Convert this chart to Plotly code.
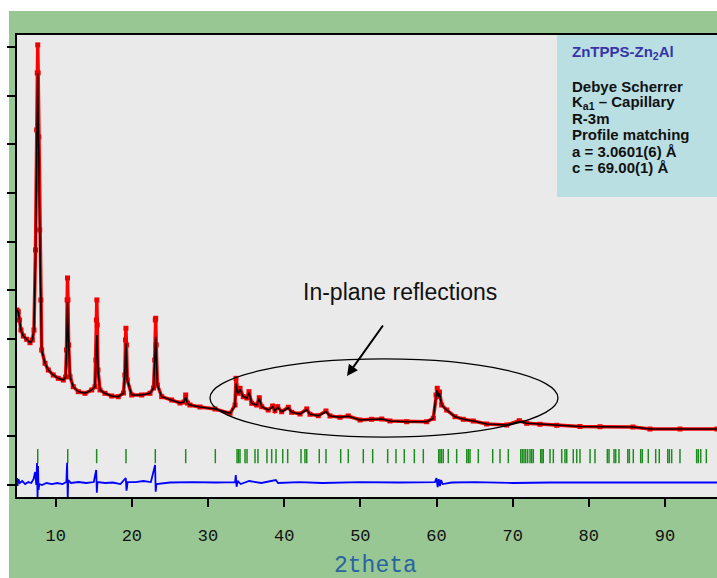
import plotly.graph_objects as go

# ---------------- data ----------------
two_theta = [4.92, 5.09, 5.25, 5.44, 5.75, 6.19, 6.63, 6.93, 7.15, 7.35, 7.50, 7.58, 7.64, 7.70, 7.78, 7.90,
             8.05, 8.16, 8.60, 9.03, 9.68, 10.34, 11.00, 11.30, 11.42, 11.50, 11.55, 11.61, 11.70, 11.88,
             12.31, 12.97, 13.85, 14.73, 15.16, 15.28, 15.35, 15.40, 15.46, 15.55, 15.82, 16.47, 17.35,
             18.22, 18.90, 19.08, 19.17, 19.22, 19.29, 19.40, 19.98, 21.29, 22.38, 22.85, 23.00, 23.08,
             23.13, 23.20, 23.35, 23.92, 25.23, 26.32, 26.85, 27.07, 27.30, 27.63, 28.95, 30.92, 32.89,
             33.55, 33.67, 33.85, 33.98, 34.20, 34.63, 35.10, 35.38, 35.74, 36.39, 36.73, 37.05, 37.91,
             38.49, 38.79, 39.15, 39.67, 40.54, 40.99, 42.08, 42.96, 43.39, 44.48, 45.49, 46.02, 47.33,
             48.42, 49.96, 51.49, 52.81, 53.89, 56.09, 58.71, 59.58, 59.94, 60.10, 60.24, 60.40, 60.68,
             61.34, 62.43, 63.52, 64.83, 66.59, 69.22, 70.87, 71.84, 73.59, 75.78, 78.84, 81.47, 85.80,
             88.03, 91.97, 96.83]

intensity_obs = [2593, 2558, 2387, 2181, 2058, 1990, 1920, 1976, 2181, 3828, 6297, 7470, 8047, 7470, 6153, 4239,
                 2799, 1770, 1496, 1358, 1255, 1187, 1152, 1214, 1770, 2799, 3252, 2799, 1873, 1220,
                 1015, 912, 879, 947, 1015, 1564, 2387, 2799, 2284, 1358, 947, 879, 823,
                 809, 885, 1255, 1976, 2217, 1873, 1152, 844, 844, 879, 988, 1564, 2387,
                 2422, 1873, 1050, 809, 741, 679, 700, 844, 679, 638, 597, 556, 467,
                 638, 1187, 906, 879, 982, 809, 782, 912, 673, 638, 788, 603, 535,
                 617, 521, 603, 500, 591, 488, 453, 556, 447, 418, 515, 412, 385,
                 412, 329, 344, 350, 309, 294, 294, 364, 844, 982, 809, 906, 638,
                 535, 397, 344, 309, 247, 226, 315, 261, 241, 220, 196, 191, 185,
                 144, 144, 144]

intensity_calc = [2593, 2558, 2387, 2181, 2058, 1990, 1920, 1976, 2181, 3700, 6000, 6600, 7470, 6500, 5900, 4239,
                  2799, 1770, 1496, 1358, 1255, 1187, 1152, 1214, 1700, 2400, 2758, 2300, 1873, 1220,
                  1015, 912, 879, 947, 1015, 1500, 1800, 2079, 1900, 1358, 947, 879, 823,
                  809, 885, 1255, 1700, 1908, 1700, 1152, 844, 844, 879, 988, 1500, 1900,
                  2044, 1700, 1050, 809, 741, 679, 700, 800, 679, 638, 597, 556, 467,
                  620, 1085, 906, 879, 960, 809, 782, 890, 673, 638, 770, 603, 535,
                  600, 521, 590, 500, 580, 488, 453, 540, 447, 418, 500, 412, 385,
                  405, 329, 344, 350, 309, 294, 294, 364, 820, 946, 809, 880, 638,
                  535, 397, 344, 309, 247, 226, 300, 261, 241, 220, 196, 191, 185,
                  144, 144, 144]

diff_two_theta = [4.92, 5.0, 5.1, 5.3, 5.6, 6.0, 6.4, 6.8, 7.1, 7.3, 7.45, 7.55, 7.62, 7.68, 7.75, 7.85,
                  8.2, 8.8, 9.5, 10.2, 10.9, 11.4, 11.50, 11.58, 11.65, 12.0, 13.0, 14.0, 15.0, 15.32,
                  15.40, 15.48, 16.5, 17.5, 18.5, 19.1, 19.2, 19.3, 19.45, 20.5, 21.5, 22.5, 23.05,
                  23.13, 23.22, 25.0, 28.0, 31.0, 33.55, 33.65, 33.75, 33.9, 34.3, 35.4, 37.0, 38.9,
                  39.2, 42.0, 45.0, 50.0, 55.0, 59.8, 60.0, 60.15, 60.3, 60.45, 60.6, 60.8, 62.0,
                  65.0, 70.0, 75.0, 80.0, 85.0, 90.0, 96.83]

diff_values = [-864, -1029, -885, -967, -926, -988, -947, -967, -885, -741, -1008, -556, -1300, -617, -1111, -988,
               -1008, -967, -988, -967, -988, -947, -549, -1280, -906, -967, -947, -967, -947, -700,
               -1167, -947, -967, -957, -988, -885, -864, -1126, -947, -947, -926, -947, -597,
               -1146, -988, -957, -947, -957, -947, -803, -1043, -926, -988, -926, -967, -906,
               -967, -947, -967, -947, -957, -947, -864, -1050, -885, -1029, -906, -988, -957,
               -947, -967, -957, -957, -967, -957, -957]

bragg_positions = [7.64, 11.58, 15.38, 19.23, 23.08, 27.07, 30.96,
                   33.81, 34.00, 34.20, 34.86, 35.12, 36.17, 36.56, 37.74, 38.36, 38.93, 39.81, 40.46,
                   42.21, 42.73, 42.96, 44.61, 45.49, 47.42, 48.42, 50.39, 51.62, 53.59, 54.68, 55.77,
                   57.09, 58.27, 60.29, 60.46, 60.66, 60.89, 61.55, 62.65, 63.97, 64.18, 64.40, 65.49,
                   67.38, 68.34, 69.43, 71.06, 71.27, 71.49, 71.71, 71.97, 72.28, 72.50, 72.71, 73.68,
                   73.85, 74.02, 74.90, 75.34, 76.44, 76.87, 77.10, 77.96, 78.41, 78.84, 80.16, 80.81,
                   82.43, 82.65, 83.31, 83.53, 83.96, 85.11, 85.32, 85.84, 86.81, 87.02, 87.81, 88.78,
                   89.25, 90.36, 90.57, 90.88, 91.97, 94.16, 94.37, 94.69, 95.43]

x_tick_values = [10, 20, 30, 40, 50, 60, 70, 80, 90]
info_lines = ["Debye Scherrer", "K<sub>a1</sub> \u2013 Capillary", "R-3m", "Profile matching",
              "a = 3.0601(6) \u00c5", "c = 69.00(1) \u00c5"]

BRAGG_TOP, BRAGG_BOTTOM = -268, -560

# ---------------- figure ----------------
fig = go.Figure()

fig.add_trace(go.Scatter(x=two_theta, y=intensity_obs, mode="lines+markers",
                         line=dict(color="#FF0000", width=3.5), marker=dict(color="#EE0000", size=5, symbol="square"),
                         hoverinfo="skip", showlegend=False))
fig.add_trace(go.Scatter(x=two_theta, y=intensity_calc, mode="lines",
                         line=dict(color="#000000", width=1.5), hoverinfo="skip", showlegend=False))

bx, by = [], []
for p in bragg_positions:
    bx += [p, p, None]
    by += [BRAGG_TOP, BRAGG_BOTTOM, None]
fig.add_trace(go.Scatter(x=bx, y=by, mode="lines", line=dict(color="#1E8C1E", width=1.5),
                         hoverinfo="skip", showlegend=False))

fig.add_trace(go.Scatter(x=diff_two_theta, y=diff_values, mode="lines",
                         line=dict(color="#0000FF", width=1.8), hoverinfo="skip", showlegend=False, cliponaxis=True))

W, H = 717, 578
L, R, T, B = 17, 0, 35, 81
pw, ph = W - L - R, H - T - B

def px_x(px):
    return (px - L) / pw

def px_y(py):
    return (H - B - py) / ph

shapes = [
    dict(type="rect", xref="paper", yref="paper", x0=px_x(9), x1=1.02, y0=px_y(600), y1=px_y(11),
         fillcolor="#98C794", line=dict(width=0), layer="below"),
    dict(type="rect", xref="paper", yref="paper", x0=0, x1=1, y0=0, y1=1,
         fillcolor="#EAEAEA", line=dict(width=0), layer="below"),
    dict(type="rect", xref="paper", yref="paper", x0=px_x(557), x1=1, y0=px_y(197), y1=1,
         fillcolor="#B9DFE3", line=dict(width=0), layer="below"),
    dict(type="circle", xref="x", yref="y", x0=30.26, x1=75.95, y0=-21, y1=1585,
         line=dict(color="#000000", width=1.3)),
]

annotations = [
    dict(text="In-plane reflections", x=55.21, y=2964, xref="x", yref="y", showarrow=False,
         font=dict(family="Liberation Sans, Arial", size=23, color="#111111")),
    dict(text="", x=48.25, y=1235, ax=53.11, ay=2305, xref="x", yref="y", axref="x", ayref="y",
         showarrow=True, arrowhead=2, arrowsize=1.1, arrowwidth=2, arrowcolor="#000000"),
    dict(text="2theta", x=px_x(375), y=px_y(566), xref="paper", yref="paper", showarrow=False,
         xanchor="center", yanchor="middle",
         font=dict(family="Liberation Mono, Courier New, monospace", size=23, color="#2A64A0")),
    dict(text="<b>ZnTPPS-Zn<sub>2</sub>Al</b>", x=px_x(570), y=px_y(52), xref="paper", yref="paper",
         showarrow=False, xanchor="left", yanchor="middle",
         font=dict(family="Liberation Sans, Arial", size=15, color="#3535A8")),
]
line_y = [86, 102, 119, 134.5, 151, 167]
for txt, yy in zip(info_lines, line_y):
    annotations.append(dict(text="<b>" + txt + "</b>", x=px_x(570), y=px_y(yy), xref="paper", yref="paper",
                            showarrow=False, xanchor="left", yanchor="middle",
                            font=dict(family="Liberation Sans, Arial", size=15, color="#111111")))

fig.update_layout(
    width=W, height=H,
    margin=dict(l=L, r=R, t=T, b=B, pad=0),
    paper_bgcolor="#FFFFFF",
    plot_bgcolor="rgba(0,0,0,0)",
    shapes=shapes,
    annotations=annotations,
    showlegend=False,
)

fig.update_xaxes(range=[4.92, 96.83], tickvals=x_tick_values, ticks="outside", ticklen=8, tickwidth=2,
                 tickcolor="#000000", showline=True, linewidth=2, linecolor="#000000", mirror=True,
                 showgrid=False, zeroline=False, ticklabelstandoff=14,
                 tickfont=dict(family="Liberation Mono, Courier New, monospace", size=17, color="#111111"))
fig.update_yaxes(range=[-1255, 8251], tick0=0, dtick=1000, ticks="outside", ticklen=8, tickwidth=1.5,
                 tickcolor="#000000", showline=True, linewidth=2, linecolor="#000000",
                 showticklabels=False, showgrid=False, zeroline=False)

fig.write_html("out.html")
